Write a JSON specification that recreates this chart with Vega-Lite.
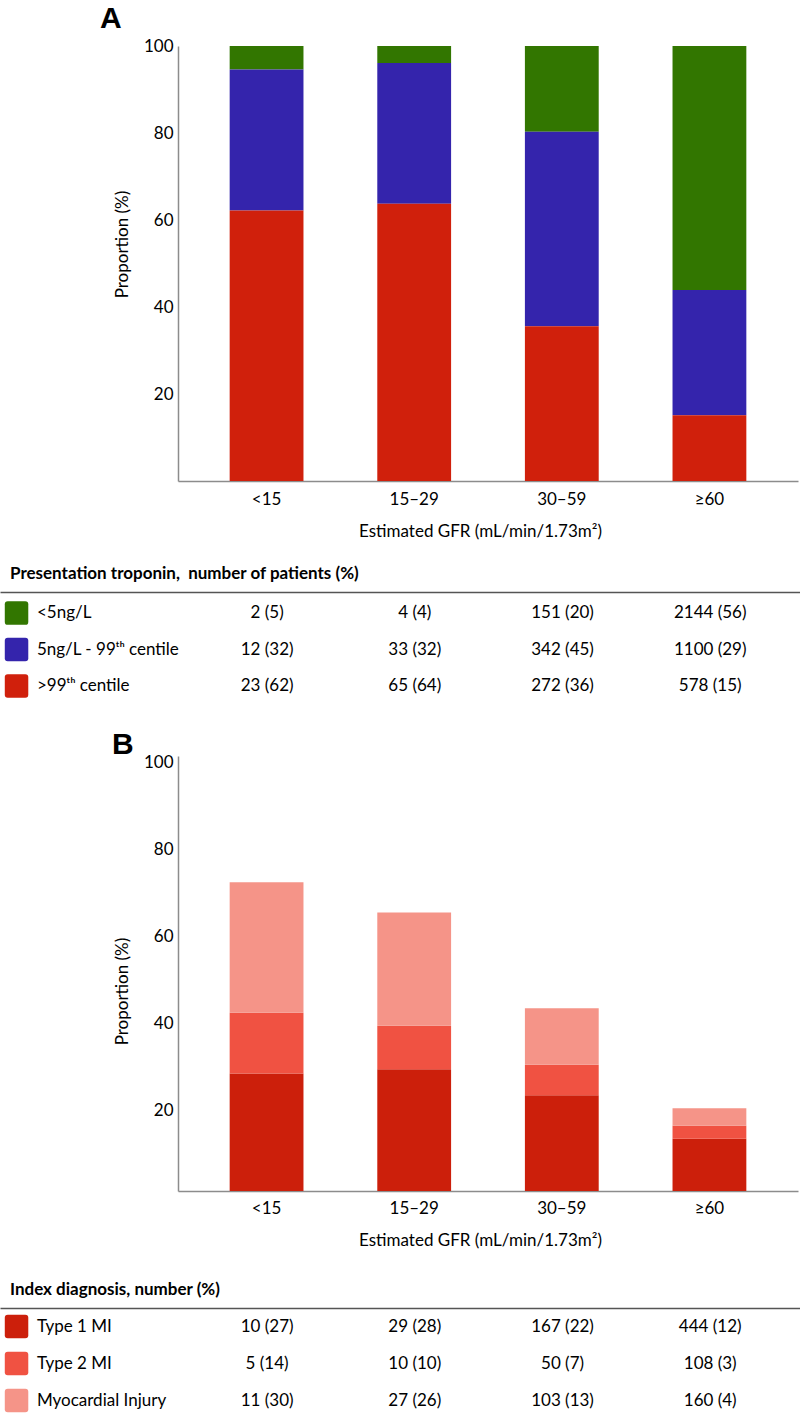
{
  "$schema": "https://vega.github.io/schema/vega-lite/v6.json",
  "background": "white",
  "padding": {"left": 0, "right": 0, "top": 4, "bottom": 0},
  "config": {
    "font": "Lato",
    "view": {"stroke": null},
    "axis": {"labelFont": "Lato", "titleFont": "Lato", "labelColor": "#000", "titleColor": "#000", "labelFontSize": 17, "titleFontSize": 17, "titleFontWeight": "normal", "ticks": false, "grid": false, "domainColor": "#8c8c8c", "domainWidth": 1.5},
    "title": {"font": "Liberation Sans", "fontWeight": "bold", "color": "#000", "anchor": "start", "frame": "group"}
  },
  "datasets": {
    "a": [
      {"gfr": "<15", "cat": "<5ng/L", "rank": 3, "n": 2, "txt": "2 (5)"},
      {"gfr": "<15", "cat": "5ng/L - 99ᵗʰ centile", "rank": 2, "n": 12, "txt": "12 (32)"},
      {"gfr": "<15", "cat": ">99ᵗʰ centile", "rank": 1, "n": 23, "txt": "23 (62)"},
      {"gfr": "15–29", "cat": "<5ng/L", "rank": 3, "n": 4, "txt": "4 (4)"},
      {"gfr": "15–29", "cat": "5ng/L - 99ᵗʰ centile", "rank": 2, "n": 33, "txt": "33 (32)"},
      {"gfr": "15–29", "cat": ">99ᵗʰ centile", "rank": 1, "n": 65, "txt": "65 (64)"},
      {"gfr": "30–59", "cat": "<5ng/L", "rank": 3, "n": 151, "txt": "151 (20)"},
      {"gfr": "30–59", "cat": "5ng/L - 99ᵗʰ centile", "rank": 2, "n": 342, "txt": "342 (45)"},
      {"gfr": "30–59", "cat": ">99ᵗʰ centile", "rank": 1, "n": 272, "txt": "272 (36)"},
      {"gfr": "≥60", "cat": "<5ng/L", "rank": 3, "n": 2144, "txt": "2144 (56)"},
      {"gfr": "≥60", "cat": "5ng/L - 99ᵗʰ centile", "rank": 2, "n": 1100, "txt": "1100 (29)"},
      {"gfr": "≥60", "cat": ">99ᵗʰ centile", "rank": 1, "n": 578, "txt": "578 (15)"}
    ],
    "b": [
      {"gfr": "<15", "cat": "Type 1 MI", "rank": 1, "n": 10, "pct": 27, "txt": "10 (27)"},
      {"gfr": "<15", "cat": "Type 2 MI", "rank": 2, "n": 5, "pct": 14, "txt": "5 (14)"},
      {"gfr": "<15", "cat": "Myocardial Injury", "rank": 3, "n": 11, "pct": 30, "txt": "11 (30)"},
      {"gfr": "15–29", "cat": "Type 1 MI", "rank": 1, "n": 29, "pct": 28, "txt": "29 (28)"},
      {"gfr": "15–29", "cat": "Type 2 MI", "rank": 2, "n": 10, "pct": 10, "txt": "10 (10)"},
      {"gfr": "15–29", "cat": "Myocardial Injury", "rank": 3, "n": 27, "pct": 26, "txt": "27 (26)"},
      {"gfr": "30–59", "cat": "Type 1 MI", "rank": 1, "n": 167, "pct": 22, "txt": "167 (22)"},
      {"gfr": "30–59", "cat": "Type 2 MI", "rank": 2, "n": 50, "pct": 7, "txt": "50 (7)"},
      {"gfr": "30–59", "cat": "Myocardial Injury", "rank": 3, "n": 103, "pct": 13, "txt": "103 (13)"},
      {"gfr": "≥60", "cat": "Type 1 MI", "rank": 1, "n": 444, "pct": 12, "txt": "444 (12)"},
      {"gfr": "≥60", "cat": "Type 2 MI", "rank": 2, "n": 108, "pct": 3, "txt": "108 (3)"},
      {"gfr": "≥60", "cat": "Myocardial Injury", "rank": 3, "n": 160, "pct": 4, "txt": "160 (4)"}
    ]
  },
  "spacing": 23,
  "resolve": {"scale": {"color": "independent"}},
  "vconcat": [
    {
      "spacing": 26,
      "vconcat": [
        {
          "title": {"text": "A", "fontSize": 30, "dx": 100, "offset": 3},
          "width": 800,
          "height": 435,
          "data": {"name": "a"},
          "mark": {"type": "bar"},
          "encoding": {
            "x": {"field": "gfr", "type": "nominal", "sort": ["<15", "15–29", "30–59", "≥60"],
              "scale": {"range": [178, 798], "paddingInner": 0.5, "paddingOuter": 0.35},
              "axis": {"title": "Estimated GFR (mL/min/1.73m²)", "labelAngle": 0, "labelPadding": 10, "titlePadding": 16, "titleX": 480}},
            "y": {"field": "n", "type": "quantitative", "stack": "normalize", "scale": {"domain": [0, 1]},
              "axis": {"title": "Proportion (%)", "values": [0.2, 0.4, 0.6, 0.8, 1], "labelExpr": "format(datum.value*100,'.0f')", "offset": -178, "labelPadding": 5, "titlePadding": 12, "titleY": 198}},
            "color": {"field": "cat", "type": "nominal",
              "scale": {"domain": ["<5ng/L", "5ng/L - 99ᵗʰ centile", ">99ᵗʰ centile"], "range": ["#327600", "#3424AC", "#D0200C"]},
              "legend": null},
            "order": {"field": "rank", "type": "quantitative"}
          }
        },
        {
          "title": {"text": "Presentation troponin, \u00a0number of patients (%)", "font": "Lato", "fontSize": 17, "dx": 10, "offset": 9},
          "width": 800,
          "height": 115,
          "data": {"name": "a"},
          "encoding": {
            "y": {"field": "cat", "type": "nominal", "sort": ["<5ng/L", "5ng/L - 99ᵗʰ centile", ">99ᵗʰ centile"], "scale": {"type": "band", "paddingInner": 0, "paddingOuter": 0.08}, "axis": null}
          },
          "layer": [
            {
              "mark": {"type": "text", "fontSize": 17, "baseline": "middle", "align": "center", "color": "#000", "font": "Lato"},
              "encoding": {
                "x": {"field": "gfr", "type": "nominal",
                  "scale": {"type": "band", "domain": ["label", "<15", "15–29", "30–59", "≥60"], "paddingInner": 0, "paddingOuter": 0.208, "align": 0.741},
                  "axis": {"orient": "top", "labels": false, "ticks": false, "title": null, "domainColor": "#555", "domainWidth": 1.5}},
                "text": {"field": "txt"}
              }
            },
            {
              "transform": [{"filter": "datum.gfr == '<15'"}],
              "mark": {"type": "text", "fontSize": 17, "baseline": "middle", "align": "left", "color": "#000", "font": "Lato", "dx": -8.6},
              "encoding": {
                "x": {"datum": "label", "type": "nominal", "bandPosition": 0,
                  "scale": {"type": "band", "domain": ["label", "<15", "15–29", "30–59", "≥60"], "paddingInner": 0, "paddingOuter": 0.208, "align": 0.741},
                  "axis": {"orient": "top", "labels": false, "ticks": false, "title": null, "domainColor": "#555", "domainWidth": 1.5}},
                "text": {"field": "cat"}
              }
            },
            {
              "transform": [{"filter": "datum.gfr == '<15'"}],
              "mark": {"type": "point", "filled": true, "opacity": 1, "size": 552, "strokeWidth": 0, "xOffset": -29,
                "shape": "M -0.75 -1 L 0.75 -1 Q 1 -1 1 -0.75 L 1 0.75 Q 1 1 0.75 1 L -0.75 1 Q -1 1 -1 0.75 L -1 -0.75 Q -1 -1 -0.75 -1 Z"},
              "encoding": {
                "x": {"datum": "label", "type": "nominal", "bandPosition": 0,
                  "scale": {"type": "band", "domain": ["label", "<15", "15–29", "30–59", "≥60"], "paddingInner": 0, "paddingOuter": 0.208, "align": 0.741},
                  "axis": {"orient": "top", "labels": false, "ticks": false, "title": null, "domainColor": "#555", "domainWidth": 1.5}},
                "color": {"field": "cat", "type": "nominal",
                  "scale": {"domain": ["<5ng/L", "5ng/L - 99ᵗʰ centile", ">99ᵗʰ centile"], "range": ["#327600", "#3424AC", "#D0200C"]},
                  "legend": null}
              }
            }
          ]
        }
      ]
    },
    {
      "spacing": 33,
      "vconcat": [
        {
          "title": {"text": "B", "fontSize": 30, "dx": 112, "offset": -7},
          "width": 800,
          "height": 435,
          "data": {"name": "b"},
          "mark": {"type": "bar"},
          "encoding": {
            "x": {"field": "gfr", "type": "nominal", "sort": ["<15", "15–29", "30–59", "≥60"],
              "scale": {"range": [178, 798], "paddingInner": 0.5, "paddingOuter": 0.35},
              "axis": {"title": "Estimated GFR (mL/min/1.73m²)", "labelAngle": 0, "labelPadding": 9, "titlePadding": 16, "titleX": 480}},
            "y": {"field": "pct", "type": "quantitative", "stack": "zero", "scale": {"domain": [0, 100]},
              "axis": {"title": "Proportion (%)", "values": [20, 40, 60, 80, 100], "offset": -178, "labelPadding": 5, "labelOffset": 6, "titlePadding": 12, "titleY": 235}},
            "color": {"field": "cat", "type": "nominal",
              "scale": {"domain": ["Type 1 MI", "Type 2 MI", "Myocardial Injury"], "range": ["#CC1F0B", "#F05242", "#F59488"]},
              "legend": null},
            "order": {"field": "rank", "type": "quantitative"}
          }
        },
        {
          "title": {"text": "Index diagnosis, number (%)", "font": "Lato", "fontSize": 17, "dx": 10, "offset": 9},
          "width": 800,
          "height": 111,
          "data": {"name": "b"},
          "encoding": {
            "y": {"field": "cat", "type": "nominal", "sort": ["Type 1 MI", "Type 2 MI", "Myocardial Injury"], "scale": {"type": "band", "paddingInner": 0, "paddingOuter": 0}, "axis": null}
          },
          "layer": [
            {
              "mark": {"type": "text", "fontSize": 17, "baseline": "middle", "align": "center", "color": "#000", "font": "Lato"},
              "encoding": {
                "x": {"field": "gfr", "type": "nominal",
                  "scale": {"type": "band", "domain": ["label", "<15", "15–29", "30–59", "≥60"], "paddingInner": 0, "paddingOuter": 0.208, "align": 0.741},
                  "axis": {"orient": "top", "labels": false, "ticks": false, "title": null, "domainColor": "#555", "domainWidth": 1.5}},
                "text": {"field": "txt"}
              }
            },
            {
              "transform": [{"filter": "datum.gfr == '<15'"}],
              "mark": {"type": "text", "fontSize": 17, "baseline": "middle", "align": "left", "color": "#000", "font": "Lato", "dx": -8.6},
              "encoding": {
                "x": {"datum": "label", "type": "nominal", "bandPosition": 0,
                  "scale": {"type": "band", "domain": ["label", "<15", "15–29", "30–59", "≥60"], "paddingInner": 0, "paddingOuter": 0.208, "align": 0.741},
                  "axis": {"orient": "top", "labels": false, "ticks": false, "title": null, "domainColor": "#555", "domainWidth": 1.5}},
                "text": {"field": "cat"}
              }
            },
            {
              "transform": [{"filter": "datum.gfr == '<15'"}],
              "mark": {"type": "point", "filled": true, "opacity": 1, "size": 552, "strokeWidth": 0, "xOffset": -29,
                "shape": "M -0.75 -1 L 0.75 -1 Q 1 -1 1 -0.75 L 1 0.75 Q 1 1 0.75 1 L -0.75 1 Q -1 1 -1 0.75 L -1 -0.75 Q -1 -1 -0.75 -1 Z"},
              "encoding": {
                "x": {"datum": "label", "type": "nominal", "bandPosition": 0,
                  "scale": {"type": "band", "domain": ["label", "<15", "15–29", "30–59", "≥60"], "paddingInner": 0, "paddingOuter": 0.208, "align": 0.741},
                  "axis": {"orient": "top", "labels": false, "ticks": false, "title": null, "domainColor": "#555", "domainWidth": 1.5}},
                "color": {"field": "cat", "type": "nominal",
                  "scale": {"domain": ["Type 1 MI", "Type 2 MI", "Myocardial Injury"], "range": ["#CC1F0B", "#F05242", "#F59488"]},
                  "legend": null}
              }
            }
          ]
        }
      ]
    }
  ]
}
